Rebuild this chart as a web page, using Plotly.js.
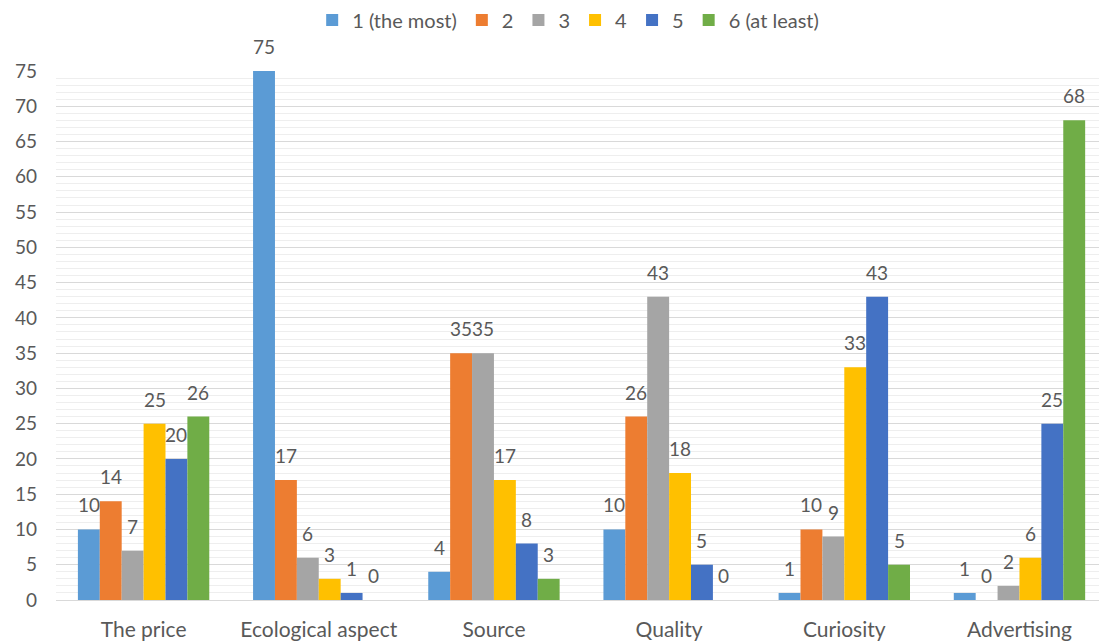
<!DOCTYPE html>
<html>
<head>
<meta charset="utf-8">
<script src="https://cdn.plot.ly/plotly-3.0.1.min.js"></script>
<style>html,body{margin:0;padding:0;background:#fff;}#chart{width:1099px;height:642px;}</style>
</head>
<body>
<div id="chart"></div>
<script>
const categories = ["The price", "Ecological aspect", "Source", "Quality", "Curiosity", "Advertising"];
const seriesNames = ["1 (the most)", "2", "3", "4", "5", "6 (at least)"];
const s1 = [10, 75, 4, 10, 1, 1];
const s2 = [14, 17, 35, 26, 10, 0];
const s3 = [7, 6, 35, 43, 9, 2];
const s4 = [25, 3, 17, 18, 33, 6];
const s5 = [20, 1, 8, 5, 43, 25];
const s6 = [26, 0, 3, 0, 5, 68];
const seriesValues = [s1, s2, s3, s4, s5, s6];
const colors = ["#5B9BD5", "#ED7D31", "#A5A5A5", "#FFC000", "#4472C4", "#70AD47"];

const FONT = "Lato, 'Open Sans', sans-serif";
const TXT = "#595959";

const traces = seriesValues.map((vals, i) => ({
  type: "bar",
  name: seriesNames[i],
  x: categories,
  y: vals,
  marker: {color: colors[i]},
  hoverinfo: "x+y+name"
}));

// data labels via annotations anchored on data coordinates
const plotLeft = 56, plotRight = 1099;
const xr = [-0.5, 5.454];
const pxPerCat = (plotRight - plotLeft) / (xr[1] - xr[0]);
const bargap = 0.25;
const barW = pxPerCat * (1 - bargap) / seriesValues.length;
const annotations = [];
seriesValues.forEach((vals, i) => {
  vals.forEach((v, j) => {
    annotations.push({
      x: categories[j], y: v, xref: "x", yref: "y",
      text: String(v), showarrow: false,
      xanchor: "center", yanchor: "bottom",
      xshift: (i - (seriesValues.length - 1) / 2) * barW,
      yshift: 11,
      font: {family: FONT, size: 19, color: TXT}
    });
  });
});

const layout = {
  width: 1099, height: 642,
  paper_bgcolor: "#ffffff", plot_bgcolor: "#ffffff",
  margin: {l: plotLeft, r: 0, t: 71, b: 42},
  font: {family: FONT, size: 19, color: TXT},
  barmode: "group",
  bargap: bargap,
  bargroupgap: 0,
  showlegend: true,
  legend: {
    orientation: "h", xref: "container", yref: "container",
    x: 0.517, xanchor: "center", y: 0.969, yanchor: "middle",
    font: {family: FONT, size: 20, color: TXT},
    itemwidth: 30, traceorder: "normal"
  },
  xaxis: {
    type: "category",
    range: xr,
    showgrid: false, zeroline: false,
    showline: true, linecolor: "#d9d9d9", linewidth: 1,
    ticks: "", ticklabelstandoff: 11,
    tickfont: {family: FONT, size: 21, color: TXT},
    fixedrange: true
  },
  yaxis: {
    range: [0, 75], dtick: 5, tick0: 0,
    showgrid: true, gridcolor: "#d9d9d9", gridwidth: 1,
    zeroline: true, zerolinecolor: "#d9d9d9", zerolinewidth: 1,
    minor: {dtick: 1, showgrid: true, gridcolor: "#eeeeee", gridwidth: 1, ticks: ""},
    ticks: "", ticklabelstandoff: 18,
    tickfont: {family: FONT, size: 19, color: TXT},
    fixedrange: true
  },
  annotations: annotations
};

Plotly.newPlot("chart", traces, layout, {displayModeBar: false, staticPlot: true});
</script>
</body>
</html>
